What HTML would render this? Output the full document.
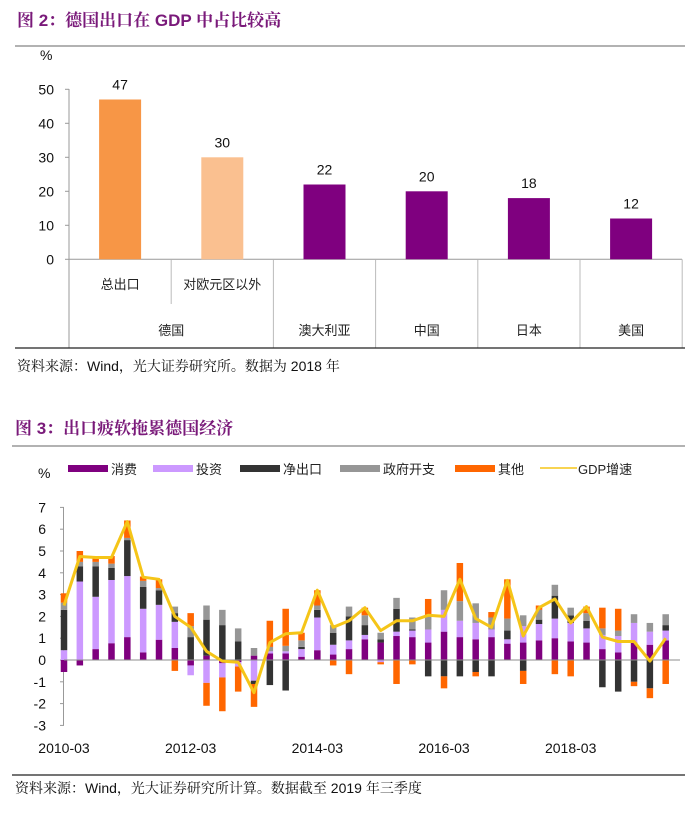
<!DOCTYPE html>
<html><head><meta charset="utf-8">
<style>
body{margin:0;background:#fff;width:692px;height:816px;overflow:hidden;font-family:"Liberation Sans","Noto Sans CJK SC",sans-serif;}
svg{display:block}
.t{font-family:"Liberation Sans","Noto Serif CJK SC",serif;font-weight:bold;fill:#7a1a7a;font-size:17px}
.s{font-family:"Liberation Sans","Noto Serif CJK SC",serif;font-size:14px;fill:#111}
.a{font-size:14px;fill:#111}
.c{font-size:13px;fill:#222}
</style></head><body>
<svg id="root" width="692" height="816" viewBox="0 0 692 816">
 <text class="t" x="17" y="26">图 2：德国出口在 GDP 中占比较高</text>
 <line x1="15" y1="46" x2="685" y2="46" stroke="#999" stroke-width="1.5"/>
 <g id="chart1"></g>
 <line x1="15" y1="348" x2="685" y2="348" stroke="#222" stroke-width="1.2"/>
 <text class="s" x="17" y="371">资料来源：Wind，光大证券研究所。数据为 2018 年</text>

 <text class="t" x="15" y="434">图 3：出口疲软拖累德国经济</text>
 <line x1="12" y1="446" x2="685" y2="446" stroke="#999" stroke-width="1.5"/>
 <g id="chart2"></g>
 <line x1="12" y1="775" x2="685" y2="775" stroke="#222" stroke-width="1.2"/>
 <text class="s" x="15" y="793">资料来源：Wind，光大证券研究所计算。数据截至 2019 年三季度</text>
</svg>
<script>
// ---- Chart 1 data ----
const c1Values=[47,30,22,20,18,12];
const c1Labels=["总出口","对欧元区以外","澳大利亚","中国","日本","美国"];
const c1Groups=["德国","澳大利亚","中国","日本","美国"];
const c1Ticks=[0,10,20,30,40,50];
// ---- Chart 2 data ----
const quarters=39;
const consumption=[-0.55,-0.25,0.5,0.77,1.05,0.35,0.93,0.55,-0.25,0.2,-0.15,-0.1,0.2,0.3,0.3,0.15,0.45,0.25,0.5,0.95,0.8,1.1,1.05,0.8,1.3,1.05,0.95,1.05,0.75,0.8,0.9,1.0,0.85,0.8,0.5,0.35,0.8,0.7,0.9];
const investment=[0.45,3.6,2.4,2.9,2.8,2.0,1.6,1.2,-0.45,-1.05,-0.65,-0.2,-0.95,0.1,0.1,0.35,1.5,0.45,0.4,0.2,-0.1,0.2,0.3,0.6,1.0,0.75,0.75,0.35,0.2,0.75,0.75,0.9,0.85,0.65,0.65,0.75,0.9,0.6,0.45];
const netExports=[1.85,0.7,1.4,0.55,1.65,1.0,0.67,0.4,1.05,1.65,1.6,0.85,-0.15,-1.15,-1.4,0.1,0.35,0.55,1.1,0.45,0.15,1.05,0.05,-0.75,-0.75,-0.75,-0.55,-0.75,0.4,-0.5,0.2,1.05,0.35,0.35,-1.25,-1.45,-1.0,-1.3,0.25];
const government=[0.33,0.2,0.2,0.2,0.1,0.28,0.1,0.3,0.5,0.65,0.7,0.6,0.35,0.2,0.25,0.3,0.2,0.35,0.45,0.45,0.3,0.5,0.55,0.65,0.9,0.9,0.9,0.55,0.55,0.5,0.45,0.5,0.35,0.35,0.3,0.25,0.4,0.4,0.5];
const other=[0.43,0.5,0.2,0.35,0.8,0.2,0.4,-0.5,0.6,-1.05,-1.55,-1.15,-1.05,1.2,1.7,0.35,0.7,-0.25,-0.65,0.35,-0.1,-1.1,-0.2,0.75,-0.55,1.75,-0.2,0.25,1.8,-0.6,0.2,-0.65,-0.75,0.3,0.95,1.0,-0.2,-0.45,-1.1];
const gdp=[2.5,4.75,4.7,4.7,6.35,3.8,3.7,2.0,1.5,0.4,-0.05,-0.1,-1.5,0.8,1.2,1.25,3.2,1.5,1.8,2.4,1.35,1.8,1.8,2.05,2.0,3.7,1.9,1.5,3.65,1.1,2.4,2.8,1.7,2.45,1.05,0.85,0.85,-0.05,1.0];
const c2Ticks=[-3,-2,-1,0,1,2,3,4,5,6,7];
const xTickLabels=["2010-03","2012-03","2014-03","2016-03","2018-03"];
const xTickIndex=[0,8,16,24,32];

const NS="http://www.w3.org/2000/svg";
function mk(tag,attrs,parent,text){const e=document.createElementNS(NS,tag);for(const k in attrs)e.setAttribute(k,attrs[k]);if(text!==undefined)e.textContent=text;parent.appendChild(e);return e;}

// Chart 1
(function(){
 const g=document.getElementById('chart1');
 const y=v=>259.3-v*3.4, x0=69, step=102.2;
 const colors=["#f79646","#fac090","#7f007f","#7f007f","#7f007f","#7f007f"];
 let t=mk('text',{x:40,y:60,class:'a'},g,'%');
 
 
 let ax=mk('line',{x1:x0,y1:89,x2:x0,y2:348,stroke:'#999'},g);
 
 
 c1Ticks.forEach(v=>{
  let l=mk('line',{x1:x0-4,y1:y(v),x2:x0,y2:y(v),stroke:'#999'},g);
  
  
  let tt=mk('text',{x:54,y:y(v)+5,'text-anchor':'end',class:'a'},g,String(v));
  
  
 });
 let base=mk('line',{x1:x0,y1:y(0),x2:682,y2:y(0),stroke:'#999'},g);
 
 
 c1Values.forEach((v,i)=>{
  const cx=x0+step*(i+0.5);
  let r=mk('rect',{x:cx-21,y:y(v),width:42,height:y(0)-y(v),fill:colors[i]},g);
  
  
  let vl=mk('text',{x:cx,y:y(v)-10,'text-anchor':'middle',class:'a'},g,String(v));
  
  
  const dx=x0+step*(i+1);
  let d=mk('line',{x1:dx,y1:y(0),x2:dx,y2:i==0?304:348,stroke:'#bbb'},g);
  
  
  if(i<2){
   let cl=mk('text',{x:cx,y:289,'text-anchor':'middle',class:'c'},g,c1Labels[i]);
   
   
  }
 });
 c1Groups.forEach((n,i)=>{
  const cx=i==0?x0+step:x0+step*(i+1.5);
  let gl=mk('text',{x:cx,y:335,'text-anchor':'middle',class:'c'},g,n);
  
  
 });
})();

// Chart 2
(function(){
 const g=document.getElementById('chart2');
 const y=v=>660-v*21.8, x0=64, step=(665.7-64)/38, bw=6.5;
 const x=i=>x0+i*step;
 const series=[consumption,investment,netExports,government,other];
 const names=["消费","投资","净出口","政府开支","其他"];
 const cols=["#7f007f","#cc99ff","#333333","#969696","#ff6600"];
 let u=mk('text',{x:38,y:478,class:'a'},g,'%');
 
 
 const lx=[68,153,240,340,455];
 names.forEach((n,i)=>{
  let s=mk('rect',{x:lx[i],y:465,width:40,height:7,fill:cols[i]},g);
  
  
  let lt=mk('text',{x:lx[i]+43,y:474,class:'c'},g,n);
  
  
 });
 let ll=mk('line',{x1:540,y1:468,x2:577,y2:468,stroke:'#f5c518','stroke-width':1.5},g);
 
 
 let lg=mk('text',{x:578,y:474,class:'c'},g,'GDP增速');
 
 
 let ax=mk('line',{x1:x0-0.5,y1:y(7),x2:x0-0.5,y2:y(-3),stroke:'#999'},g);
 
 
 c2Ticks.forEach(v=>{
  let l=mk('line',{x1:x0-4,y1:y(v),x2:x0,y2:y(v),stroke:'#999'},g);
  
  
  let tt=mk('text',{x:46,y:y(v)+5,'text-anchor':'end',class:'a'},g,String(v));
  
  
 });
 for(let i=0;i<quarters;i++){
  let pos=0,neg=0;
  series.forEach((s,k)=>{
   const v=s[i];let y1,y2;
   if(v>=0){y1=y(pos+v);y2=y(pos);pos+=v;}else{y1=y(neg);y2=y(neg+v);neg+=v;}
   let r=mk('rect',{x:x(i)-bw/2,y:y1,width:bw,height:Math.max(0,y2-y1),fill:cols[k]},g);
   
   
  });
 }
 let z=mk('line',{x1:x0,y1:y(0),x2:680,y2:y(0),stroke:'#8c8c8c'},g);
 
 
 let pts=gdp.map((v,i)=>x(i).toFixed(1)+','+y(v).toFixed(1)).join(' ');
 let pl=mk('polyline',{points:pts,fill:'none',stroke:'#f5c518','stroke-width':3,'stroke-linejoin':'round'},g);
 
 
 xTickLabels.forEach((lab,j)=>{
  let tt=mk('text',{x:x(xTickIndex[j]),y:753,'text-anchor':'middle',class:'a'},g,lab);
  
  
 });
})();
</script>
</body></html>
